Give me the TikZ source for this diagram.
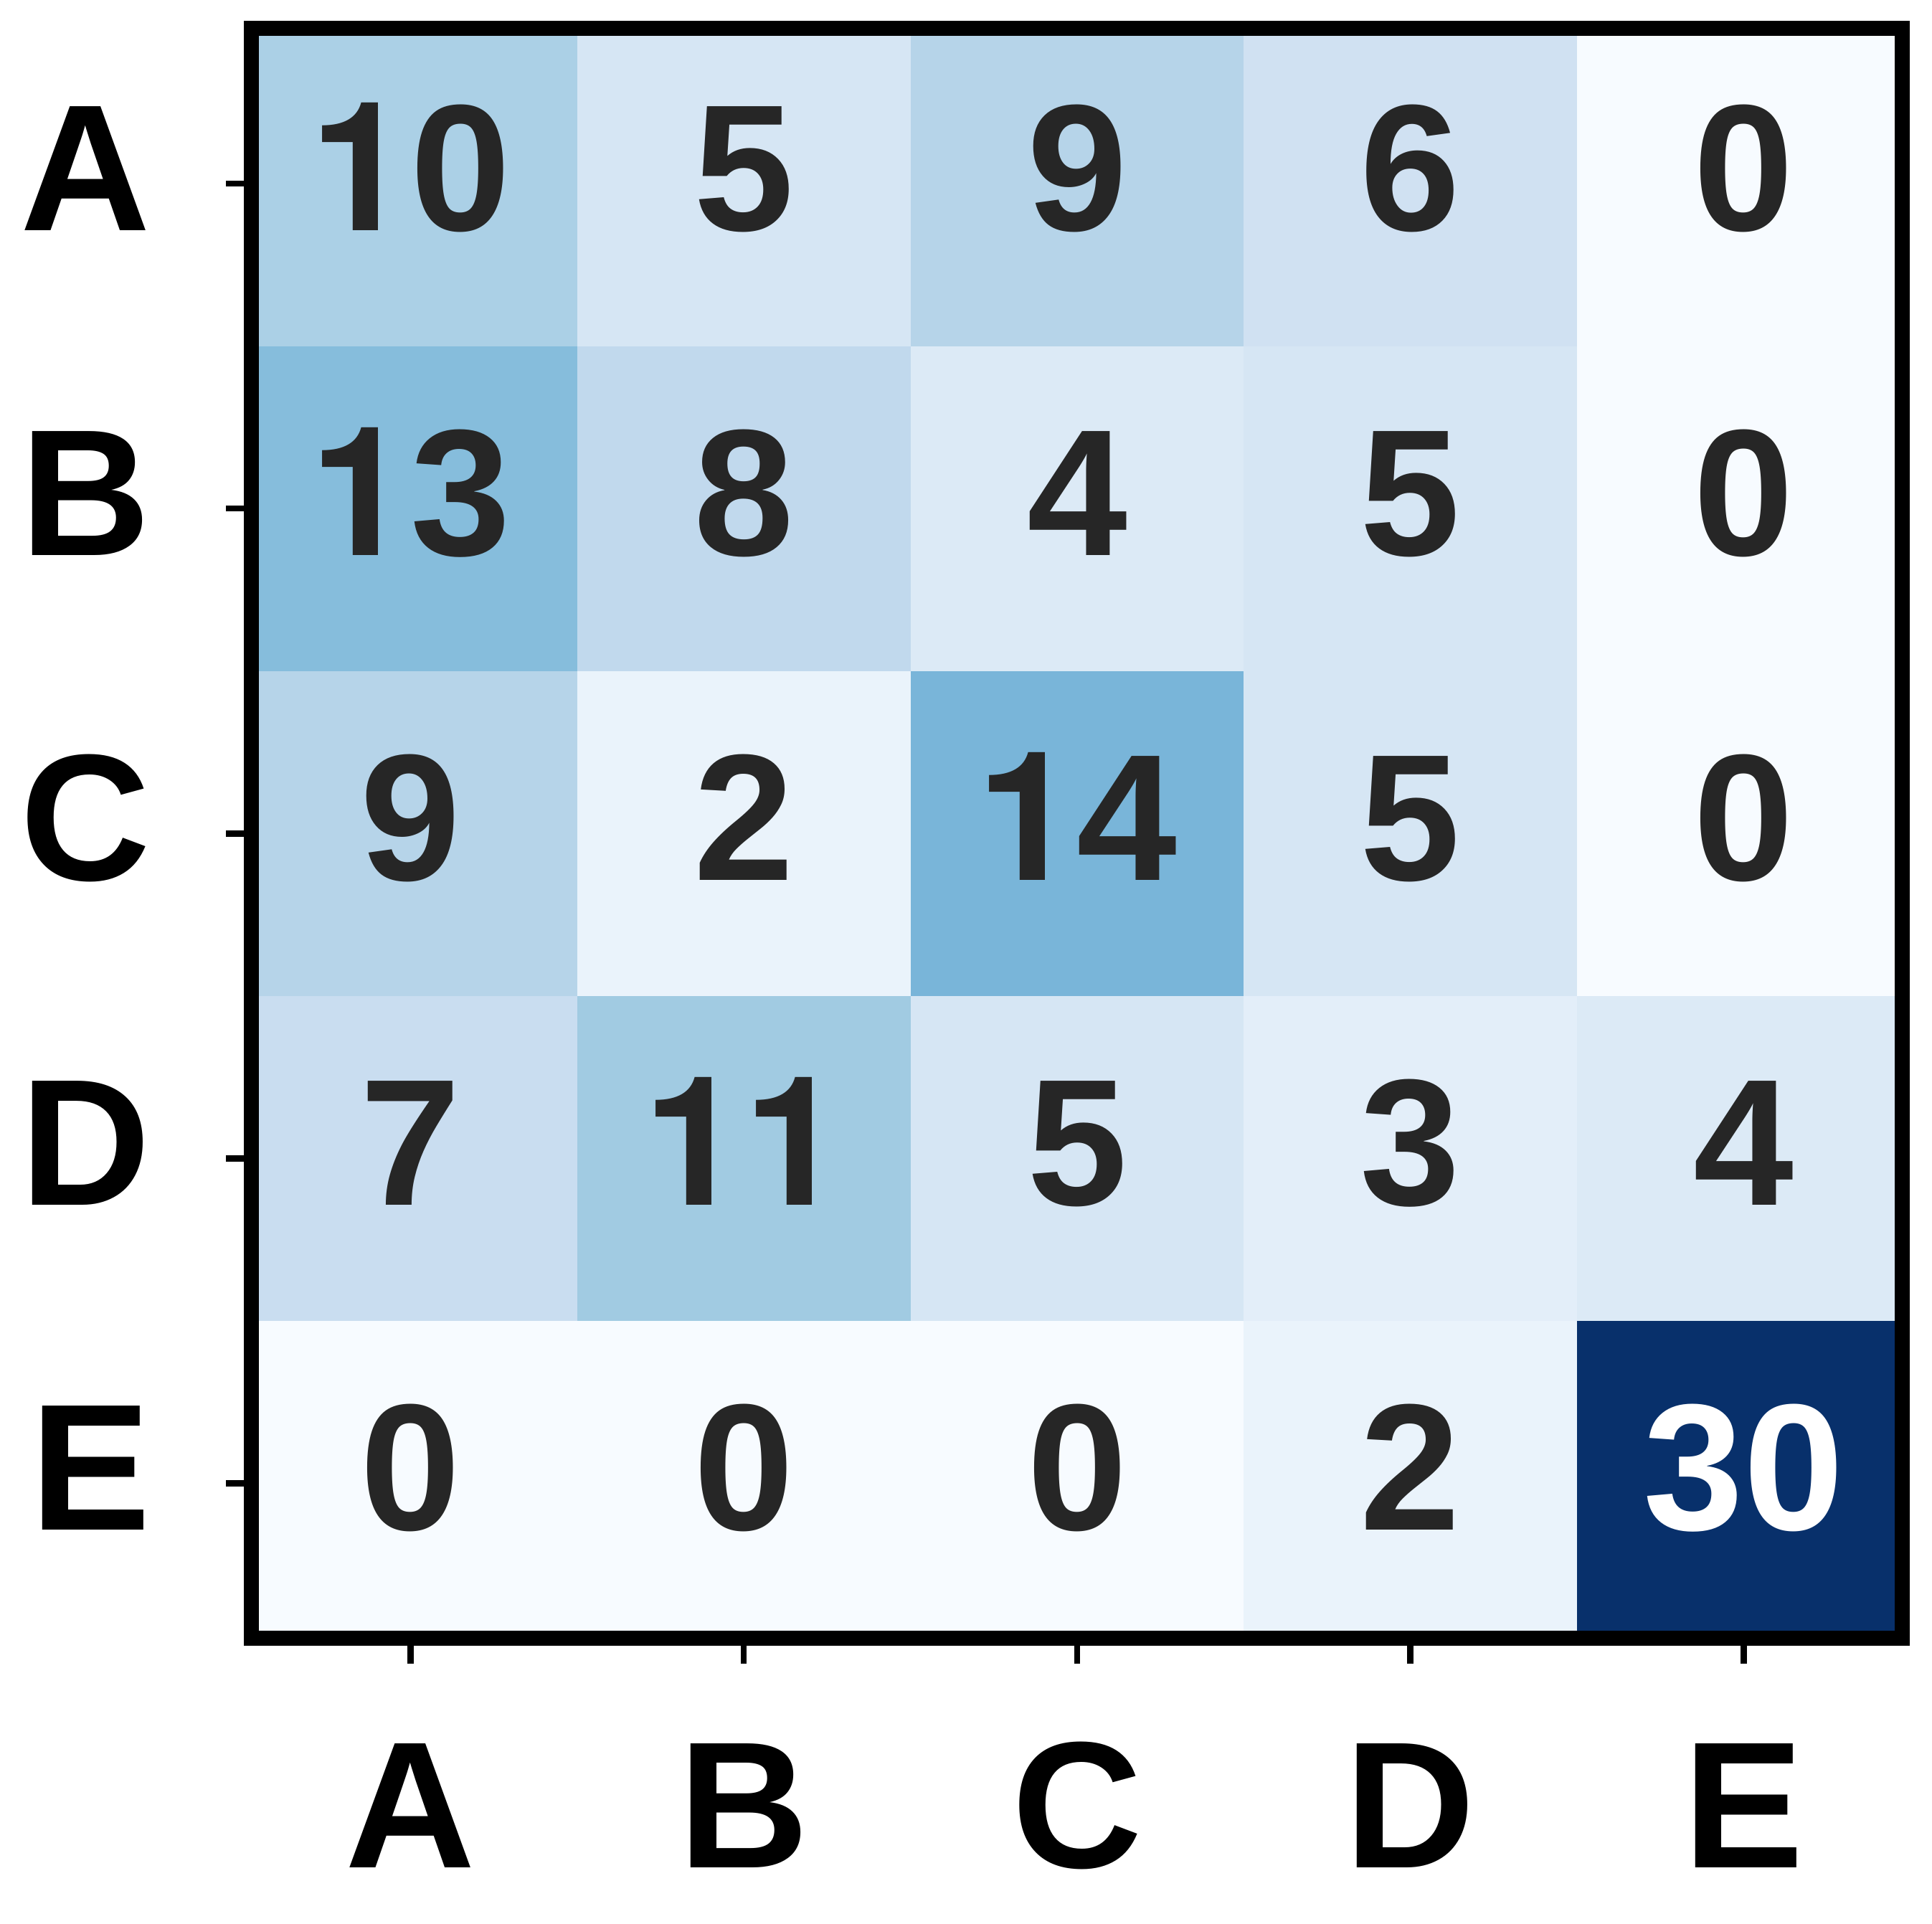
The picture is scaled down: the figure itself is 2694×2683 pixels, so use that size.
\documentclass[tikz,border=0pt]{standalone}
\usepackage{fontspec}
\setmainfont{Liberation Sans}
\newfontfamily\herosfont{TeX Gyre Heros}
\newcommand{\digitone}{{\herosfont\bfseries 1}}
\definecolor{v0}{RGB}{247,251,255}
\definecolor{v2}{RGB}{234,243,251}
\definecolor{v3}{RGB}{227,238,249}
\definecolor{v4}{RGB}{220,234,246}
\definecolor{v5}{RGB}{214,230,244}
\definecolor{v6}{RGB}{208,225,242}
\definecolor{v7}{RGB}{201,221,240}
\definecolor{v8}{RGB}{193,217,237}
\definecolor{v9}{RGB}{182,212,233}
\definecolor{v10}{RGB}{171,208,230}
\definecolor{v11}{RGB}{161,203,226}
\definecolor{v13}{RGB}{134,189,220}
\definecolor{v14}{RGB}{121,181,217}
\definecolor{v30}{RGB}{8,48,107}
\definecolor{txt}{RGB}{38,38,38}
\begin{document}
\begin{tikzpicture}[x=0.3pt,y=-0.3pt,
  num/.style={font=\fontsize{75.4}{80}\selectfont\bfseries, inner sep=0pt, outer sep=0pt, anchor=base},
  lab/.style={font=\fontsize{75.4}{80}\selectfont\bfseries, inner sep=0pt, outer sep=0pt, text=black},
  tickline/.style={line width=2.55pt, black},
  frameline/.style={line width=6.3pt, black}]
\useasboundingbox (0,0) rectangle (2694,2683);
\fill[white] (0,0) rectangle (2694,2683);
\begin{scope}
\clip (355,35) rectangle (2648,2289);
\foreach \i/\j/\v in {0/0/10,1/0/5,2/0/9,3/0/6,4/0/0,
                      0/1/13,1/1/8,2/1/4,3/1/5,4/1/0,
                      0/2/9,1/2/2,2/2/14,3/2/5,4/2/0,
                      0/3/7,1/3/11,2/3/5,3/3/3,4/3/4,
                      0/4/0,1/4/0,2/4/0,3/4/2,4/4/30} {
  \fill[v\v] ({340+\i*464.75},{29.5+\j*453.1}) rectangle ++(465.75,454.1);
}
\end{scope}
\foreach \i/\j/\v/\t in {0/0/10/{\digitone0},1/0/5/5,2/0/9/9,3/0/6/6,4/0/0/0,
                      0/1/13/{\digitone3},1/1/8/8,2/1/4/4,3/1/5/5,4/1/0/0,
                      0/2/9/9,1/2/2/2,2/2/14/{\digitone4},3/2/5/5,4/2/0/0,
                      0/3/7/7,1/3/11/{\digitone\digitone},2/3/5/5,3/3/3/3,4/3/4/4,
                      0/4/0/0,1/4/0/0,2/4/0/0,3/4/2/2,4/4/30/30} {
  \def\tc{txt}
  \ifnum\v=30 \def\tc{white}\fi
  \node[num, text=\tc] (c\i\j) at ({340+(\i+0.5)*464.75},{29.5+(\j+0.5)*453.1+65.5}) {\t};
}
\draw[frameline] (350.5,40) rectangle (2652.9,2284.5);
\foreach \j/\L in {0/A,1/B,2/C,3/D,4/E} {
  \node[lab, anchor=base east] (y\L) at (210,{29.5+(\j+0.5)*453.1+65.5}) {\L};
  \node[lab, anchor=base] (x\L) at ({340+(\j+0.5)*464.75},2604) {\L};
  \draw[tickline] (315,{29.5+(\j+0.5)*453.1}) -- (340,{29.5+(\j+0.5)*453.1});
  \draw[tickline] ({340+(\j+0.5)*464.75},2295) -- ({340+(\j+0.5)*464.75},2320);
}
\end{tikzpicture}
\end{document}
